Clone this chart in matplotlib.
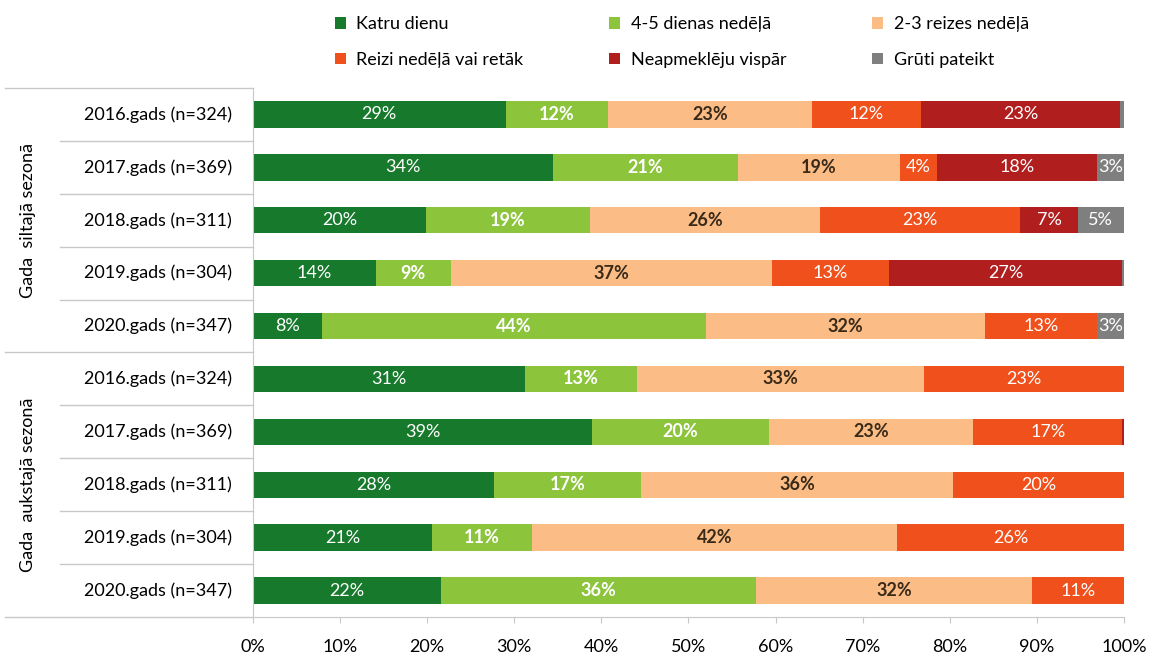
"""
plot.py

Stacked horizontal bars: visit frequency by season and year.
"""

import matplotlib.pyplot as plt
import numpy as np

plt.rcParams["font.family"] = ["Lato", "DejaVu Sans"]

row_labels = [
    "2016.gads (n=324)",
    "2017.gads (n=369)",
    "2018.gads (n=311)",
    "2019.gads (n=304)",
    "2020.gads (n=347)",
    "2016.gads (n=324)",
    "2017.gads (n=369)",
    "2018.gads (n=311)",
    "2019.gads (n=304)",
    "2020.gads (n=347)",
]

group_labels = ["Gada  siltajā sezonā", "Gada  aukstajā sezonā"]

categories = [
    "Katru dienu",
    "4-5 dienas nedēļā",
    "2-3 reizes nedēļā",
    "Reizi nedēļā vai retāk",
    "Neapmeklēju vispār",
    "Grūti pateikt",
]

katru_dienu = [29.0, 34.4, 19.9, 14.1, 7.9, 31.2, 38.9, 27.7, 20.6, 21.6]
dienas_4_5 = [11.8, 21.3, 18.8, 8.6, 44.1, 12.9, 20.4, 16.9, 11.4, 36.2]
reizes_2_3 = [23.4, 18.6, 26.4, 36.9, 32.0, 32.9, 23.4, 35.8, 42.0, 31.6]
reizi_retak = [12.5, 4.2, 23.0, 13.4, 12.9, 23.0, 17.1, 19.6, 26.0, 10.6]
neapmekleju = [22.9, 18.4, 6.6, 26.8, 0.0, 0.0, 0.2, 0.0, 0.0, 0.0]
gruti = [0.4, 3.1, 5.3, 0.2, 3.1, 0.0, 0.0, 0.0, 0.0, 0.0]

series = [katru_dienu, dienas_4_5, reizes_2_3, reizi_retak, neapmekleju, gruti]

colors = ["#17792c", "#8cc43c", "#fbbd85", "#f0501c", "#b01e1e", "#7f7f7f"]
text_colors = ["white", "white", "#3a2a1a", "white", "white", "white"]
text_weights = ["normal", "bold", "bold", "normal", "normal", "normal"]

fig = plt.figure(figsize=(11.58, 6.58), dpi=100)
ax = fig.add_axes([0.2185, 0.0623, 0.752, 0.804])

y = np.arange(len(row_labels))
left = np.zeros(len(row_labels))

handles = []
for vals, color, tcolor, weight, name in zip(
    series, colors, text_colors, text_weights, categories
):
    vals = np.array(vals)
    bars = ax.barh(y, vals, left=left, height=0.5, color=color, label=name)
    handles.append(bars)
    for i, v in enumerate(vals):
        if v >= 2:
            ax.text(
                left[i] + v / 2,
                y[i],
                f"{v:.0f}%",
                ha="center",
                va="center",
                color=tcolor,
                fontsize=13,
                fontweight=weight,
            )
    left += vals

ax.set_xlim(0, 100)
ax.set_ylim(9.5, -0.5)
ax.set_yticks([])
ax.set_xticks(np.arange(0, 101, 10))
ax.set_xticklabels([f"{t}%" for t in range(0, 101, 10)], fontsize=13)
ax.tick_params(axis="x", length=4, color="#c8c8c8", pad=12)

for side in ["top", "right"]:
    ax.spines[side].set_visible(False)
ax.spines["left"].set_color("#c8c8c8")
ax.spines["bottom"].set_color("#c8c8c8")

trans = ax.get_yaxis_transform()

# row labels and separators in the category area
for i, label in enumerate(row_labels):
    ax.text(-0.024, y[i], label, transform=trans, ha="right", va="center", fontsize=13)

for b in np.arange(0.5, 9.5, 1.0):
    x0 = -0.285 if b == 4.5 else -0.222
    ax.plot([x0, 0], [b, b], transform=trans, color="#c8c8c8", lw=1, clip_on=False)

for b in [-0.5, 9.5]:
    ax.plot([-0.285, 0], [b, b], transform=trans, color="#c8c8c8", lw=1, clip_on=False)

for g, label in enumerate(group_labels):
    ax.text(
        -0.258,
        2 + 5 * g,
        label,
        transform=trans,
        rotation=90,
        ha="center",
        va="center",
        fontsize=13,
    )

# legend fills column first, so reorder to read row by row
order = [0, 3, 1, 4, 2, 5]
fig.legend(
    handles=[handles[k] for k in order],
    labels=[categories[k] for k in order],
    loc="upper left",
    bbox_to_anchor=(0.275, 1.0),
    ncol=3,
    frameon=False,
    fontsize=13,
    handlelength=0.6,
    handleheight=0.6,
    handletextpad=0.6,
    columnspacing=4.75,
    labelspacing=1.1,
)

fig.savefig("out.png", dpi=100)
